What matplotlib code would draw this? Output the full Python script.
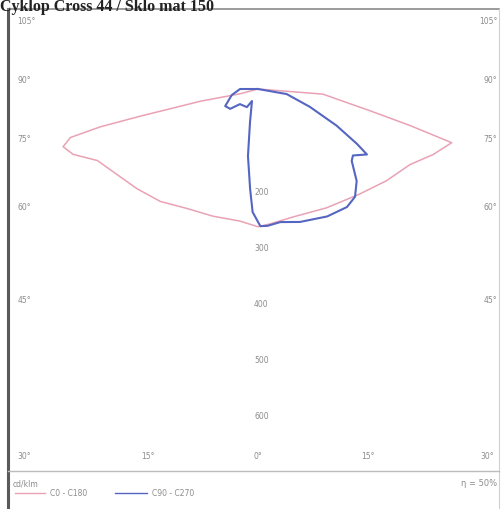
import numpy as np
import matplotlib
matplotlib.use("Agg")
import matplotlib.pyplot as plt
from matplotlib.lines import Line2D

# Light distribution: angle from nadir (deg, left side negative), cd/klm
c0_angle = [-90, -75, -78, -77, -76.5, -75.5, -73.5, -70.5, -66, -59, -50.5, -41, -30.5, -19.5, -8,
            0, 5, 15, 30, 44, 54.5, 63.5, 69.5, 74.5, 76.5, 79, 85.5, 90]
c0_cd = [0, 33, 105, 216, 290, 346, 363, 350, 314, 295, 280, 266, 248, 241, 238,
         246, 242, 237, 245, 261, 282, 303, 334, 359, 279, 204, 116, 0]

c90_angle = [-90, -90, -77, -62.5, -54.5, -50, -31.5, -26.5, -13.5, -8.5, -4.5, -2.5,
             1, 4, 9.5, 17.5, 28.5, 37, 42, 47, 52.5, 55, 59, 61, 65, 71, 80, 90]
c90_cd = [0, 32, 48, 66, 61, 42, 38, 24, 61, 121, 179, 220,
          245, 245, 241, 249, 259, 264, 259, 241, 211, 207, 227, 202, 155, 98, 52, 0]

side_angles = [105, 90, 75, 60, 45]
bottom_angles = [-30, -15, 0, 15, 30]
radial_values = [200, 300, 400, 500, 600]

title = "Cyklop Cross 44 / Sklo mat 150"
unit_label = "cd/klm"
legend_labels = ["C0 - C180", "C90 - C270"]
efficiency = "η = 50%"

col_c0 = "#e9a2b4"
col_c90 = "#5566c2"
col_text = "#8c8c8c"


def to_xy(angle, cd):
    a = np.radians(angle)
    cd = np.asarray(cd, dtype=float)
    return cd * np.sin(a), -cd * np.cos(a)


fig = plt.figure(figsize=(5.02, 5.10), dpi=100)
ax = fig.add_axes([8 / 502, 38 / 510, 491 / 502, 462 / 510])
ax.set_xlim(-446.4, 430.4)
ax.set_ylim(-682.3, 142.9)
ax.axis("off")

x0, y0 = to_xy(c0_angle, c0_cd)
ax.plot(x0, y0, color=col_c0, lw=1.1)
x90, y90 = to_xy(c90_angle, c90_cd)
ax.plot(x90, y90, color=col_c90, lw=1.5)

left_edge, right_edge = -430, 427

# angle labels on the sides (placed a little above where the ray meets the side)
d_side = 393
for a in side_angles:
    y = -d_side / np.tan(np.radians(a)) if a != 90 else 0
    for ha, xx in [("left", left_edge), ("right", right_edge)]:
        ax.annotate(f"{a}°", (xx, y), xytext=(0, 7), textcoords="offset points",
                    ha=ha, va="center", fontsize=5.5, color=col_text)

# angle labels along the bottom
d_bottom = 730
for a in bottom_angles:
    xx = d_bottom * np.tan(np.radians(a))
    ha = "center"
    if xx < left_edge + 20:
        xx, ha = left_edge, "left"
    elif xx > right_edge - 20:
        xx, ha = right_edge - 5, "right"
    ax.text(xx, -655, f"{abs(a)}°", ha=ha, va="center", fontsize=5.5, color=col_text)

# radial scale labels on the vertical axis
for v in radial_values:
    ax.annotate(str(v), (6, -v), xytext=(0, 7), textcoords="offset points",
                ha="center", va="center", fontsize=5.5, color=col_text)

# frame and footer
fig.add_artist(Line2D([8 / 502, 8 / 502], [0, 500 / 510], color="#5a5a5a", lw=2.2))
fig.add_artist(Line2D([8 / 502, 499 / 502], [500 / 510, 500 / 510], color="#8a8a8a", lw=1.2))
fig.add_artist(Line2D([499 / 502, 499 / 502], [0, 500 / 510], color="#d0d0d0", lw=0.8))
fig.add_artist(Line2D([8 / 502, 499 / 502], [38 / 510, 38 / 510], color="#bcbcbc", lw=1.0))

fig.text(13 / 502, 26 / 510, unit_label, fontsize=5.5, color=col_text, va="center")
fig.text(497 / 502, 26 / 510, efficiency, fontsize=6, color=col_text, va="center", ha="right")
fig.add_artist(Line2D([15 / 502, 45 / 502], [16 / 510, 16 / 510], color=col_c0, lw=1.0))
fig.text(50 / 502, 16 / 510, legend_labels[0], fontsize=5.5, color=col_text, va="center")
fig.add_artist(Line2D([115 / 502, 147 / 502], [16 / 510, 16 / 510], color=col_c90, lw=1.0))
fig.text(152 / 502, 16 / 510, legend_labels[1], fontsize=5.5, color=col_text, va="center")

# title above the frame
fig.text(0.0, 499 / 510, title, fontsize=11.5, fontweight="bold", family="Liberation Serif",
         color="#222222", va="baseline", ha="left")

fig.savefig("out.png", dpi=100)
